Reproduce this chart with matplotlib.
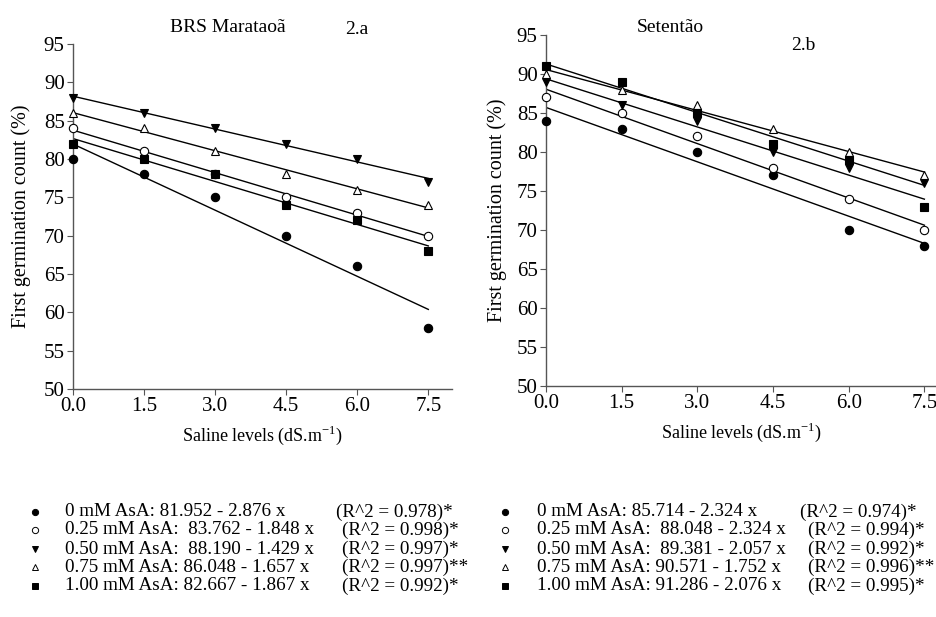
import numpy as np
from matplotlib import pyplot as plt
from matplotlib.lines import Line2D

plt.rcParams["font.family"] = ["Liberation Serif", "DejaVu Serif"]
plt.rcParams["mathtext.fontset"] = "custom"
plt.rcParams["mathtext.rm"] = "Liberation Serif"

saline = [0.0, 1.5, 3.0, 4.5, 6.0, 7.5]
doses = ["0 mM AsA:", "0.25 mM AsA: ", "0.50 mM AsA: ", "0.75 mM AsA:", "1.00 mM AsA:"]
markers = ["o", "o", "v", "^", "s"]
filled = [True, False, True, False, True]

# BRS Marataoa (2.a)
pts_a = [
    [80, 78, 75, 70, 66, 58],
    [84, 81, 78, 75, 73, 70],
    [88, 86, 84, 82, 80, 77],
    [86, 84, 81, 78, 76, 74],
    [82, 80, 78, 74, 72, 68],
]
b0_a = [81.952, 83.762, 88.190, 86.048, 82.667]
b1_a = [2.876, 1.848, 1.429, 1.657, 1.867]
r2_a = ["(R^2 = 0.978)*", "(R^2 = 0.998)*", "(R^2 = 0.997)*", "(R^2 = 0.997)**", "(R^2 = 0.992)*"]

# Setentao (2.b)
pts_b = [
    [84, 83, 80, 77, 70, 68],
    [87, 85, 82, 78, 74, 70],
    [89, 86, 84, 80, 78, 76],
    [90, 88, 86, 83, 80, 77],
    [91, 89, 85, 81, 79, 73],
]
b0_b = [85.714, 88.048, 89.381, 90.571, 91.286]
b1_b = [2.324, 2.324, 2.057, 1.752, 2.076]
r2_b = ["(R^2 = 0.974)*", "(R^2 = 0.994)*", "(R^2 = 0.992)*", "(R^2 = 0.996)**", "(R^2 = 0.995)*"]

W, H = 937, 617
fig = plt.figure(figsize=(W / 100, H / 100), dpi=100)


def px(x0, y0, x1, y1):
    return [x0 / W, 1 - y1 / H, (x1 - x0) / W, (y1 - y0) / H]


def panel(rect, xmax, pts, b0, b1, ylpad):
    ax = fig.add_axes(rect)
    xs = np.array([0.0, 7.5])
    for i in range(5):
        ax.plot(xs, b0[i] - b1[i] * xs, color="black", lw=1.0, zorder=1)
        ax.plot(saline, pts[i], linestyle="none", marker=markers[i], ms=6 if markers[i] != "^" else 5.5,
                mfc="black" if filled[i] else "white", mec="black", mew=0.8, zorder=3, clip_on=False)
    ax.set_xlim(0, xmax)
    ax.set_ylim(50, 95)
    ax.set_xticks(saline)
    ax.set_xticklabels([f"{v:.1f}" for v in saline])
    ax.set_yticks(range(50, 96, 5))
    for s in ("top", "right"):
        ax.spines[s].set_visible(False)
    for s in ("left", "bottom"):
        ax.spines[s].set_color("#555555")
        ax.spines[s].set_linewidth(1.0)
    ax.tick_params(axis="both", labelsize=15, length=4, color="#555555", pad=2)
    ax.set_ylabel("First germination count (%)", fontsize=14.5, labelpad=ylpad)
    ax.set_xlabel("Saline levels (dS.m$^{-1}$)", fontsize=13, labelpad=5)
    return ax


ax1 = panel(px(73, 44, 452, 389), 8.0, pts_a, b0_a, b1_a, 9)
ax2 = panel(px(546, 35, 937, 386), 7.75, pts_b, b0_b, b1_b, 7)

fig.text(228 / W, 1 - 27 / H, "BRS Marataoã", fontsize=14, ha="center", va="center")
fig.text(357 / W, 1 - 29 / H, "2.a", fontsize=14, ha="center", va="center")
fig.text(670 / W, 1 - 27 / H, "Setentão", fontsize=14, ha="center", va="center")
fig.text(803 / W, 1 - 45 / H, "2.b", fontsize=14, ha="center", va="center")

rows_y = [512, 530, 549, 567, 586]


def legend(mx, tx, rx_first, rx, b0, b1, r2):
    for i in range(5):
        y = 1 - rows_y[i] / H
        fig.add_artist(Line2D([mx / W], [y], marker=markers[i], ms=4.5 if markers[i] != "s" else 4,
                              mfc="black" if filled[i] else "white", mec="black", mew=0.7,
                              linestyle="none", transform=fig.transFigure))
        fig.text(tx / W, y, f"{doses[i]} {b0[i]:.3f} - {b1[i]:.3f} x", fontsize=13.8, va="center")
        fig.text((rx_first if i == 0 else rx) / W, y, r2[i], fontsize=13.8, va="center")


legend(35, 65, 336, 342, b0_a, b1_a, r2_a)
legend(505, 537, 800, 808, b0_b, b1_b, r2_b)

plt.savefig("out.png", dpi=100)
